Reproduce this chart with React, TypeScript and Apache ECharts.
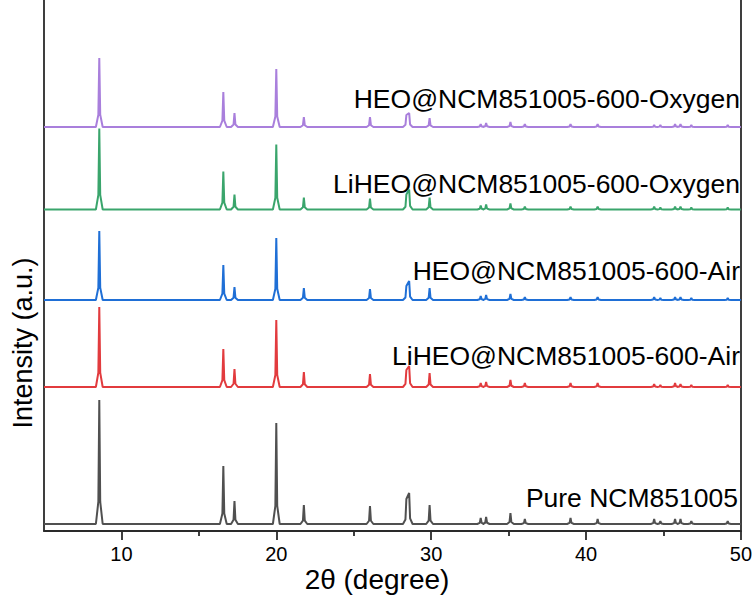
import React, { useEffect, useRef } from "react";
import * as echarts from "echarts";

const xMin = 5;
const xMax = 50;
const majorTicks = [10, 20, 30, 40, 50];
const minorTicks = [15, 25, 35, 45];

const peakPos = [8.57, 16.58, 17.3, 20.0, 21.78, 26.05, 28.4, 28.58, 29.9, 33.2, 33.55, 35.12, 36.05, 39.0, 40.75, 44.4, 44.8, 45.75, 46.1, 46.8, 49.15];

const seriesNames = [
  "Pure NCM851005",
  "LiHEO@NCM851005-600-Air",
  "HEO@NCM851005-600-Air",
  "LiHEO@NCM851005-600-Oxygen",
  "HEO@NCM851005-600-Oxygen",
];
const colors = ["#505050", "#e23b3e", "#1f6fd6", "#3aa56c", "#a97fdc"];
const offsets = [7, 144, 231, 321.5, 404];

const heightsPure = [124, 58, 23, 101, 19, 18, 25, 31, 19, 6, 7, 11, 5, 6, 5, 5, 3, 5, 5, 3, 3];
const heightsLiAir = [80, 38, 18, 67, 15, 13, 17, 21, 14, 4, 5, 7, 4, 4, 4, 3, 2, 4, 3, 2, 2];
const heightsAir = [69, 35, 13, 62, 12, 11, 14, 19, 12, 4, 5, 6, 3, 3, 3, 3, 2, 3, 3, 2, 2];
const heightsLiOxy = [81, 38, 15, 65, 12, 11, 15, 20, 12, 4, 5, 6, 3, 3, 3, 3, 2, 3, 3, 2, 2];
const heightsOxy = [69, 35, 14, 58, 10, 10, 12, 14, 9, 3, 4, 5, 3, 3, 3, 2, 2, 3, 3, 2, 2];
const allHeights = [heightsPure, heightsLiAir, heightsAir, heightsLiOxy, heightsOxy];

const labelY = [499, 357, 272, 185, 100];

const FONT = "'Liberation Sans', Arial, sans-serif";

function buildProfile(heights: number[], offset: number): number[][] {
  const pts: number[][] = [[xMin, offset]];
  const base = 0.22;
  const sh = 0.06;
  peakPos.forEach((p, i) => {
    const prev = peakPos[i - 1];
    const next = peakPos[i + 1];
    const h = heights[i];
    if (!(prev !== undefined && p - prev < 0.3)) {
      pts.push([p - base, offset]);
      pts.push([p - sh, offset + h * 0.18]);
    }
    pts.push([p, offset + h]);
    if (!(next !== undefined && next - p < 0.3)) {
      pts.push([p + sh, offset + h * 0.18]);
      pts.push([p + base, offset]);
    }
  });
  pts.push([xMax, offset]);
  return pts;
}

export default function App() {
  const ref = useRef<HTMLDivElement>(null);
  useEffect(() => {
    document.body.style.margin = "0";
    const chart = echarts.init(ref.current!, null, { renderer: "svg" });
    const axisColor = "#2a2a2a";
    chart.setOption({
      animation: false,
      grid: { left: 44, right: 13, top: 0, bottom: 64 },
      xAxis: [
        {
          type: "value",
          min: xMin,
          max: xMax,
          position: "bottom",
          axisLine: { show: true, lineStyle: { color: axisColor, width: 1.8 } },
          axisTick: { show: true, customValues: majorTicks, length: 9, lineStyle: { color: axisColor, width: 1.8 } },
          axisLabel: { show: true, customValues: majorTicks, margin: 13, fontSize: 20, color: "#000", fontFamily: FONT },
          splitLine: { show: false },
        },
        {
          type: "value",
          min: xMin,
          max: xMax,
          position: "bottom",
          axisLine: { show: false },
          axisTick: { show: true, customValues: minorTicks, length: 5, lineStyle: { color: axisColor, width: 1.8 } },
          axisLabel: { show: false },
          splitLine: { show: false },
        },
      ],
      yAxis: [
        {
          type: "value",
          min: 0,
          max: 531,
          position: "left",
          axisLine: { show: true, lineStyle: { color: axisColor, width: 1.8 } },
          axisTick: { show: false },
          axisLabel: { show: false },
          splitLine: { show: false },
        },
        {
          type: "value",
          min: 0,
          max: 531,
          position: "right",
          axisLine: { show: true, lineStyle: { color: axisColor, width: 1.8 } },
          axisTick: { show: false },
          axisLabel: { show: false },
          splitLine: { show: false },
        },
      ],
      series: allHeights.map((h, i) => ({
        type: "line",
        name: seriesNames[i],
        data: buildProfile(h, offsets[i]),
        xAxisIndex: 0,
        yAxisIndex: 0,
        showSymbol: false,
        symbol: "none",
        lineStyle: { color: colors[i], width: 2 },
        z: 2,
      })),
      graphic: [
        ...seriesNames.map((n, i) => ({
          type: "text",
          right: i === 0 ? 17 : 15,
          top: labelY[i] - 15,
          style: { text: n, fontSize: 26.5, fontFamily: FONT, fill: "#000" },
        })),
        {
          type: "text",
          x: 377,
          y: 579,
          style: { text: "2θ (degree)", fontSize: 28, fontFamily: FONT, fill: "#000", textAlign: "center", textVerticalAlign: "middle" },
        },
        {
          type: "text",
          x: 23,
          y: 343,
          rotation: Math.PI / 2,
          style: { text: "Intensity (a.u.)", fontSize: 27, fontFamily: FONT, fill: "#000", textAlign: "center", textVerticalAlign: "middle" },
        },
      ],
    });
    return () => chart.dispose();
  }, []);
  return <div ref={ref} style={{ width: 755, height: 595 }} />;
}
